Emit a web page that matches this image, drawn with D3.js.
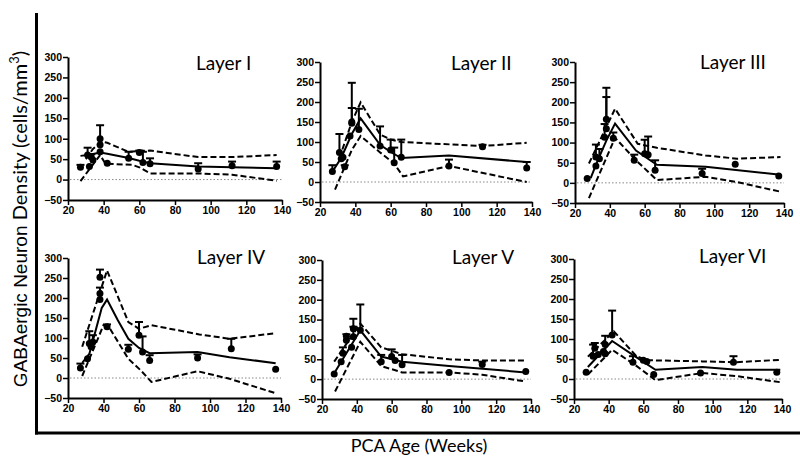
<!DOCTYPE html>
<html>
<head>
<meta charset="utf-8">
<script src="https://cdn.jsdelivr.net/npm/d3@7"></script>
<style>
  body { margin: 0; background: #fff; }
  svg { display: block; }
  .tick text { font-family: "Liberation Sans", Arial, sans-serif; font-weight: bold; font-size: 10.5px; fill: #000; }
</style>
</head>
<body>
<script>
// ---------- data ----------
const layerNames = ["Layer I", "Layer II", "Layer III", "Layer IV", "Layer V", "Layer VI"];
const xTicks = [20, 40, 60, 80, 100, 120, 140];
const yTicks = [-50, 0, 50, 100, 150, 200, 250, 300];

// points: [PCA age, mean density, top of error bar (null = none)]
const ptsI = [[27,30,36],[31,60,78],[32,32,null],[33,55,62],[34,48,null],[38,100,133],[38,85,null],[38,68,null],[42,40,null],[54,52,68],[60,66,71],[62,42,68],[66,39,52],[93,26,40],[112,34,44],[137,32,44]];
const ptsII = [[27,26,42],[31,74,120],[32,58,null],[33,62,null],[34,38,42],[37,115,null],[38,150,248],[38,147,185],[42,131,183],[54,90,139],[60,80,106],[62,48,86],[66,62,106],[93,40,56],[112,88,93],[137,35,50]];
const ptsIII = [[27,11,null],[32,42,null],[32,64,95],[34,60,84],[37,113,146],[38,158,236],[38,134,213],[42,111,125],[54,56,70],[60,72,107],[62,70,115],[66,31,56],[93,23,35],[112,46,null],[137,17,null]];
const ptsIV = [[27,25,36],[31,48,null],[32,86,117],[33,78,null],[34,90,107],[38,196,null],[38,252,271],[38,211,226],[42,128,134],[54,72,83],[60,107,140],[62,65,104],[66,44,57],[93,50,59],[112,73,98],[137,22,null]];
const ptsV = [[27,13,null],[31,44,null],[32,65,80],[34,108,113],[34,98,null],[37,80,null],[38,107,152],[38,127,132],[42,123,188],[54,44,61],[60,57,75],[62,47,null],[66,36,61],[93,17,null],[112,37,44],[137,19,null]];
const ptsVI = [[27,17,null],[31,57,86],[32,77,90],[34,61,null],[37,69,null],[38,86,108],[38,63,null],[42,110,171],[54,42,57],[60,47,null],[62,44,null],[66,11,null],[93,15,null],[112,42,57],[137,17,null]];

// fitted curve (solid) and confidence band (dashed): [age, value]
const fitI = [[27,58],[32,61],[38,66],[42,63],[54,53],[60,46],[66,40],[93,32],[112,30],[137,28]];
const upI  = [[30,50],[34,75],[39,93],[42,90],[54,68],[60,70],[66,71],[93,55],[112,55],[137,60]];
const loI  = [[27,-4],[38,60],[41,39],[56,36],[60,30],[66,15],[93,15],[112,12],[137,-3]];

const fitII = [[27,26],[32,60],[38,120],[43,159],[54,93],[60,75],[66,60],[93,66],[137,50]];
const upII  = [[31,60],[38,150],[43,199],[54,119],[60,106],[66,100],[112,90],[137,98]];
const loII  = [[28.5,-19],[38,80],[43,115],[54,74],[62,46],[67,14],[93,40],[137,0]];

const fitIII = [[29,12],[33,55],[38,105],[43,147],[55,80],[67,45],[95,40],[138,20]];
const upIII  = [[28,48],[43,184],[56,97],[67,87],[95,68],[113,60],[138,64]];
const loIII  = [[28,-38],[43,112],[55,56],[67,7],[95,15],[113,2],[138,-22]];

const fitIV = [[28,38],[32,60],[39,175],[42,196],[48,145],[54,98],[60,75],[66,62],[93,65],[111,52],[137,37]];
const upIV  = [[28,78],[42,269],[54,140],[60,123],[67,132],[94,109],[111,98],[137,112]];
const loIV  = [[28,5],[40,132],[43,128],[54,48],[61,19],[67,-10],[93,17],[111,-2],[137,-38]];

const fitV = [[27,15],[42,123],[54,57],[66,44],[93,33],[137,17]];
const upV  = [[27,44],[42,140],[54,80],[66,63],[93,50],[112,47],[137,47]];
const loV  = [[27.5,-31],[42,94],[54,33],[66,17],[93,17],[112,11],[137,-6]];

const fitVI = [[28,30],[42,95],[55,57],[67,23],[94,30],[114,23],[139,23]];
const upVI  = [[28,56],[43,119],[56,57],[62,47],[94,44],[114,42],[139,48]];
const loVI  = [[28,11],[42,73],[55,36],[67,-3],[94,15],[114,7],[139,-8]];

const allPts = [ptsI, ptsII, ptsIII, ptsIV, ptsV, ptsVI];
const allFit = [fitI, fitII, fitIII, fitIV, fitV, fitVI];
const allUp  = [upI, upII, upIII, upIV, upV, upVI];
const allLo  = [loI, loII, loIII, loIV, loV, loVI];

// ---------- layout ----------
const W = 800, H = 469;
const panels = [
  {x0: 68,  x1: 282, yT: 57,  yB: 200, tx: 196, ty: 70},
  {x0: 320, x1: 532, yT: 62,  yB: 202, tx: 451, ty: 70},
  {x0: 575, x1: 784, yT: 62,  yB: 203, tx: 700, ty: 69},
  {x0: 68,  x1: 281, yT: 258, yB: 398, tx: 197, ty: 264},
  {x0: 322, x1: 531, yT: 260, yB: 399, tx: 452, ty: 264},
  {x0: 574, x1: 782, yT: 259, yB: 399, tx: 699, ty: 263}
];

const svg = d3.select("body").append("svg").attr("width", W).attr("height", H);
svg.append("rect").attr("width", W).attr("height", H).attr("fill", "#fff");

// outer frame (left + bottom)
svg.append("line").attr("x1", 36.5).attr("x2", 36.5).attr("y1", 13).attr("y2", 434.5)
  .attr("stroke", "#000").attr("stroke-width", 3);
svg.append("line").attr("x1", 35).attr("x2", W).attr("y1", 433).attr("y2", 433)
  .attr("stroke", "#000").attr("stroke-width", 3);

// axis titles
const yl = svg.append("text")
  .attr("transform", "translate(27,219) rotate(-90)")
  .attr("text-anchor", "middle").attr("fill", "#000");
yl.append("tspan").attr("font-family", "'Liberation Sans', Arial, sans-serif").attr("font-size", 19).text("GABAergic Neuron ");
yl.append("tspan").attr("font-family", "Lato, 'Open Sans', sans-serif").attr("font-size", 20).text("Density (cells/mm");
yl.append("tspan").attr("font-family", "Lato, 'Open Sans', sans-serif").attr("font-size", 13).attr("dy", -8).text("3");
yl.append("tspan").attr("font-family", "Lato, 'Open Sans', sans-serif").attr("font-size", 20).attr("dy", 8).text(")");

svg.append("text").attr("x", 419).attr("y", 452).attr("text-anchor", "middle")
  .attr("font-family", "Lato, 'Open Sans', sans-serif").attr("font-size", 18).attr("fill", "#000")
  .text("PCA Age (Weeks)");

panels.forEach((p, i) => {
  const g = svg.append("g");
  const x = d3.scaleLinear().domain([20, 140]).range([p.x0, p.x1]);
  const y = d3.scaleLinear().domain([-50, 300]).range([p.yB, p.yT]);

  // zero reference line
  g.append("line").attr("x1", x(20) + 2).attr("x2", x(140)).attr("y1", y(0)).attr("y2", y(0))
    .attr("stroke", "#888").attr("stroke-width", 1).attr("stroke-dasharray", "1.5,2");

  // axes
  const xa = g.append("g").attr("transform", `translate(0,${p.yB})`)
    .call(d3.axisBottom(x).tickValues(xTicks).tickSize(5).tickPadding(2).tickSizeOuter(0));
  const ya = g.append("g").attr("transform", `translate(${p.x0},0)`)
    .call(d3.axisLeft(y).tickValues(yTicks).tickSize(5).tickPadding(1).tickSizeOuter(0));
  [xa, ya].forEach(a => {
    a.select(".domain").attr("stroke", "#000").attr("stroke-width", 2);
    a.selectAll(".tick line").attr("stroke", "#000").attr("stroke-width", 1.5);
  });

  const line = d3.line().x(d => x(d[0])).y(d => y(d[1]));

  // confidence bands
  [allUp[i], allLo[i]].forEach(arr => {
    g.append("path").attr("d", line(arr)).attr("fill", "none")
      .attr("stroke", "#000").attr("stroke-width", 2).attr("stroke-dasharray", "6,3");
  });
  // fit
  g.append("path").attr("d", line(allFit[i])).attr("fill", "none")
    .attr("stroke", "#000").attr("stroke-width", 2);

  // error bars
  const eb = allPts[i].filter(d => d[2] !== null);
  g.selectAll(".eb").data(eb).enter().append("line")
    .attr("x1", d => x(d[0])).attr("x2", d => x(d[0]))
    .attr("y1", d => y(d[1])).attr("y2", d => y(d[2]))
    .attr("stroke", "#000").attr("stroke-width", 2);
  g.selectAll(".cap").data(eb).enter().append("line")
    .attr("x1", d => x(d[0]) - 4).attr("x2", d => x(d[0]) + 4)
    .attr("y1", d => y(d[2])).attr("y2", d => y(d[2]))
    .attr("stroke", "#000").attr("stroke-width", 2);

  // points
  g.selectAll(".pt").data(allPts[i]).enter().append("circle")
    .attr("cx", d => x(d[0])).attr("cy", d => y(d[1])).attr("r", 3.5).attr("fill", "#000");

  // title
  g.append("text").attr("x", p.tx).attr("y", p.ty)
    .attr("font-family", "Lato, 'Open Sans', sans-serif").attr("font-size", 19).attr("fill", "#000")
    .text(layerNames[i]);
});
</script>
</body>
</html>
